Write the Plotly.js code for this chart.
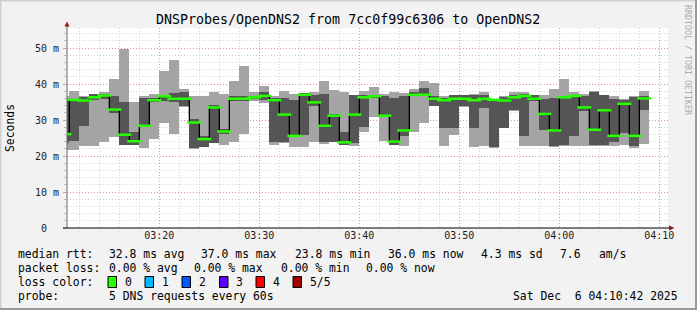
<!DOCTYPE html>
<html><head><meta charset="utf-8">
<script src="https://cdn.plot.ly/plotly-3.0.1.min.js"></script>
<style>html,body{margin:0;padding:0;background:#f2f2f2;} #chart{width:697px;height:310px;}</style>
</head><body><div id="chart"></div>
<script>
// one column per minute (start of minute), 5 DNS requests each
const minutes = ["03:10","03:11","03:12","03:13","03:14","03:15","03:16","03:17","03:18","03:19",
  "03:20","03:21","03:22","03:23","03:24","03:25","03:26","03:27","03:28","03:29",
  "03:30","03:31","03:32","03:33","03:34","03:35","03:36","03:37","03:38","03:39",
  "03:40","03:41","03:42","03:43","03:44","03:45","03:46","03:47","03:48","03:49",
  "03:50","03:51","03:52","03:53","03:54","03:55","03:56","03:57","03:58","03:59",
  "04:00","04:01","04:02","04:03","04:04","04:05","04:06","04:07","04:08"];
// sorted rtt values (ms): fastest, 2nd, median, 4th, slowest
const rtt1 = [21.6,21.6,22.9,22.9,23.8,25.3,23.0,23.0,22.2,24.7,
  29.3,26.1,33.6,22.0,22.4,23.5,23.1,24.0,26.2,35.3,
  34.7,23.1,23.6,22.4,22.4,24.0,23.2,23.9,23.0,22.7,
  26.8,30.8,24.2,23.0,22.8,26.8,29.3,33.9,22.8,25.9,
  33.7,22.4,22.8,22.2,27.7,32.4,22.8,22.7,22.7,22.4,
  22.7,22.7,22.8,22.8,22.8,22.8,23.1,22.2,23.4];
const rtt2 = [23.6,24.3,28.2,35.5,35.8,31.9,23.1,23.1,28.0,35.0,
  35.2,35.0,33.8,22.2,22.5,23.6,26.0,35.4,35.2,35.8,
  35.6,23.8,23.8,25.3,25.9,33.8,24.0,24.0,23.1,23.6,
  28.0,36.0,30.9,23.1,25.5,36.6,36.8,34.0,27.8,27.8,
  33.8,27.8,33.3,22.4,27.9,32.7,25.6,35.2,27.3,22.7,
  23.1,25.5,32.4,23.1,23.1,23.8,26.4,22.7,32.9];
const medianRtt = [26.1,35.6,35.4,36.3,36.8,32.9,25.9,24.1,28.4,35.5,
  36.6,35.9,35.9,29.3,24.7,33.5,26.8,35.9,35.9,36.3,
  36.7,35.5,31.5,25.6,37.0,34.9,28.4,31.2,23.8,31.5,
  36.3,36.6,31.2,24.0,27.1,37.0,37.0,35.9,35.5,35.9,
  35.9,35.5,35.9,35.6,35.4,36.3,36.7,35.9,31.7,27.1,
  36.3,36.7,33.5,27.3,32.7,25.6,34.5,25.6,36.0];
const rtt4 = [35.6,35.9,36.4,37.2,37.2,36.8,35.0,26.8,36.1,36.2,
  37.0,37.5,37.9,30.3,25.6,34.2,27.5,36.6,36.8,36.8,
  37.9,36.1,36.1,35.5,37.5,37.0,37.3,31.7,26.8,36.9,
  37.0,37.0,36.6,36.1,36.6,37.9,38.9,36.6,36.1,36.9,
  36.9,37.0,37.0,35.8,36.4,37.0,37.2,36.9,35.9,36.1,
  36.7,37.0,36.6,37.9,36.9,35.9,35.6,36.4,36.7];
const rtt5 = [36.7,38.1,36.7,37.3,37.9,41.5,49.8,35.1,36.6,37.2,
  43.5,46.7,38.7,36.6,36.6,37.9,37.3,40.9,45.1,37.9,
  39.5,36.6,38.1,37.3,37.6,37.9,40.7,38.4,37.9,37.0,
  38.1,39.3,37.3,37.9,37.5,38.6,40.9,40.3,36.6,37.0,
  37.0,37.3,37.7,35.9,36.7,37.8,37.9,37.0,37.0,38.6,
  41.5,37.9,37.3,38.0,37.0,36.7,35.9,36.6,38.1];
const yTickVals = [0,10,20,30,40,50];
const yTickText = ["0\u00a0\u00a0","10 m","20 m","30 m","40 m","50 m"];
const lossLabels = ["0","1","2","3","4","5/5"];
const lossColors = ["#26ff00","#00b8ff","#0059ff","#5e00ff","#ff0000","#a00000"];

const day = "2025-12-06 ";
const xs = minutes.map(m => day + m + ":30");
const MIN = 60000;

const L=67,R=668,T=28,B=228;
const px = x => (x-L)/(R-L);
const py = y => (B-y)/(B-T);

const traces = [
  {type:"bar", x:xs, base:rtt1, y:rtt5.map((v,i)=>v-rtt1[i]), width:MIN,
   marker:{color:"#a4a4a4", line:{width:0}}, hoverinfo:"skip"},
  {type:"bar", x:xs, base:rtt2, y:rtt4.map((v,i)=>v-rtt2[i]), width:MIN,
   marker:{color:"#555555", line:{width:0}}, hoverinfo:"skip"},
  {type:"scatter", mode:"lines", x:xs, y:medianRtt, line:{shape:"hvh", color:"#000", width:1.3}, hoverinfo:"skip"},
  {type:"scatter", mode:"markers", x:xs, y:medianRtt,
   marker:{symbol:"line-ew", size:10, color:"#26ff00", line:{color:"#26ff00", width:2.5}}, hoverinfo:"skip"}
];

const mono = "DejaVu Sans Mono";
const ann = [];
function txt(x, y, s, opts) {
  ann.push(Object.assign({xref:"paper", yref:"paper", x:px(x), y:py(y), text:s, showarrow:false,
    xanchor:"left", yanchor:"middle", font:{family:mono, size:11.4, color:"#000"}}, opts||{}));
}
// legend rows
txt(16,254,"median rtt:"); txt(107,254,"32.8 ms avg"); txt(199,254,"37.0 ms max");
txt(293,254,"23.8 ms min"); txt(386,254,"36.0 ms now"); txt(479,254,"4.3 ms sd");
txt(558,254,"7.6"); txt(597,254,"am/s");
txt(16,268,"packet loss:"); txt(107,268,"0.00 % avg"); txt(192,268,"0.00 % max");
txt(279,268,"0.00 % min"); txt(364,268,"0.00 % now");
txt(16,282,"loss color:");
const boxX = [108,145,182,219.5,256,293];
const shapes = [];
lossLabels.forEach((l,i)=>{
  txt(boxX[i]+15,282,l);
  shapes.push({type:"rect", xref:"paper", yref:"paper", x0:px(boxX[i]), x1:px(boxX[i]+8.5),
    y0:py(287.5), y1:py(276.5), fillcolor:lossColors[i], line:{color:"#000", width:1}});
});
txt(16,296,"probe:"); txt(107,296,"5 DNS requests every 60s");
txt(680,296,"Sat Dec\u00a0\u00a06 04:10:42 2025",{xanchor:"right"});
// axis title
txt(10,128,"Seconds",{xanchor:"center", textangle:-90});
// title
txt(348,20,"DNSProbes/OpenDNS2 from 7cc0f99c6306 to OpenDNS2",{xanchor:"center", font:{family:mono, size:13.3, color:"#000"}});
// watermark
txt(688,60,"RRDTOOL / TOBI OETIKER",{xanchor:"center", textangle:90, font:{family:mono, size:8.3, color:"#aaaaaa"}});

// axis lines, arrows and frame
shapes.push({type:"line", xref:"paper", yref:"paper", x0:px(67), x1:px(67), y0:py(228), y1:py(25), line:{color:"#666", width:1}});
shapes.push({type:"line", xref:"paper", yref:"paper", x0:px(63), x1:px(670), y0:py(228), y1:py(228), line:{color:"#000", width:1}});
shapes.push({type:"path", xref:"paper", yref:"paper",
  path:`M ${px(64.5)},${py(26.5)} L ${px(69.5)},${py(26.5)} L ${px(67)},${py(21.5)} Z`, fillcolor:"#8b1a1a", line:{width:0}});
shapes.push({type:"path", xref:"paper", yref:"paper",
  path:`M ${px(669)},${py(225.5)} L ${px(669)},${py(230.5)} L ${px(674.5)},${py(228)} Z`, fillcolor:"#8b1a1a", line:{width:0}});
shapes.push({type:"line", xref:"paper", yref:"paper", x0:px(0), x1:px(697), y0:py(0.5), y1:py(0.5), line:{color:"#d0d0d0", width:2}});
shapes.push({type:"line", xref:"paper", yref:"paper", x0:px(0.5), x1:px(0.5), y0:py(0), y1:py(310), line:{color:"#d0d0d0", width:2}});
shapes.push({type:"line", xref:"paper", yref:"paper", x0:px(0), x1:px(697), y0:py(309), y1:py(309), line:{color:"#9a9a9a", width:2}});
shapes.push({type:"line", xref:"paper", yref:"paper", x0:px(696), x1:px(696), y0:py(0), y1:py(310), line:{color:"#9a9a9a", width:2}});

const layout = {
  width:697, height:310,
  margin:{l:L, r:697-R, t:T, b:310-B, pad:0},
  paper_bgcolor:"#f2f2f2", plot_bgcolor:"#ffffff",
  showlegend:false, hovermode:false,
  barmode:"overlay", bargap:0,
  xaxis:{type:"date", range:[day+"03:10:46", day+"04:10:52"],
    tick0:day+"03:00:00", dtick:600000, tickformat:"%H:%M",
    showline:false, zeroline:false, ticks:"", fixedrange:true,
    tickfont:{family:mono, size:10, color:"#222"},
    showgrid:true, gridcolor:"rgba(225,120,120,0.75)", griddash:"1px,2px", gridwidth:1,
    minor:{dtick:120000, showgrid:true, gridcolor:"#d4d4d4", griddash:"1px,2px", gridwidth:1}},
  yaxis:{range:[0,55.56], tickvals:yTickVals, ticktext:yTickText,
    showline:false, zeroline:false, fixedrange:true,
    ticks:"outside", ticklen:3, tickcolor:"#c99", ticklabelstandoff:2,
    tickfont:{family:mono, size:10, color:"#222"},
    showgrid:true, gridcolor:"rgba(225,120,120,0.75)", griddash:"1px,2px", gridwidth:1,
    minor:{dtick:2, tick0:0, showgrid:true, gridcolor:"#d4d4d4", griddash:"1px,2px", gridwidth:1,
      ticks:"outside", ticklen:2, tickcolor:"#bbb"}},
  annotations:ann, shapes:shapes
};
Plotly.newPlot("chart", traces, layout, {staticPlot:true, displayModeBar:false});
</script>
</body></html>
